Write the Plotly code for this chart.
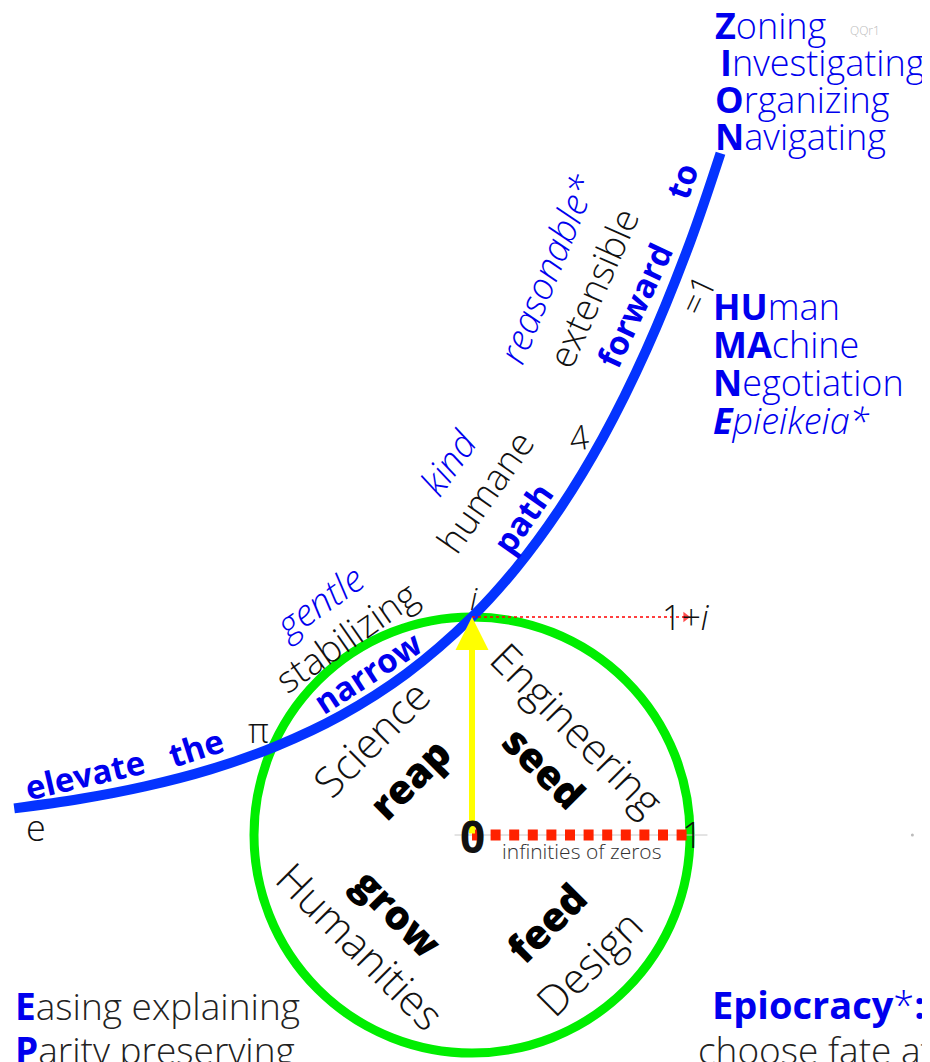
import plotly.graph_objects as go

# ---------------- data ----------------
# blue path
curve_x = [-2.10, -1.80, -1.50, -1.20, -0.90, -0.60, -0.30, 0.00, 0.20, 0.40, 0.60, 0.80, 1.00, 1.14]
curve_y = [0.122, 0.165, 0.223, 0.301, 0.407, 0.549, 0.741, 1.000, 1.221, 1.492, 1.822, 2.226, 2.718, 3.127]

# unit segments
real_seg_x = [0.0, 1.0]
real_seg_y = [0.0, 0.0]
imag_seg_x = [0.0, 0.98]
imag_seg_y = [1.0, 1.0]
arrow_tail = [0.0, 0.0]
arrow_head = [0.0, 1.0]
stray_x = [2.02]
stray_y = [0.0]

path_words = ["elevate", "the", "narrow", "path", "forward", "to"]
middle_words = ["stabilizing", "humane", "extensible"]
upper_words = ["gentle", "kind", "reasonable*"]
quadrant_fields = ["Science", "Engineering", "Humanities", "Design"]
quadrant_verbs = ["reap", "seed", "grow", "feed"]
point_labels = ["e", "π", "<i>i</i>", "4", "=1", "1+<i>i</i>", "<b>0</b>", "1"]
zion_lines = ["<b>Z</b>oning", "<b>I</b>nvestigating", "<b>O</b>rganizing", "<b>N</b>avigating"]
humane_lines = ["<b>HU</b>man", "<b>MA</b>chine", "<b>N</b>egotiation", "<b><i>E</i></b><i>pieikeia*</i>"]
left_lines = ["<b><span style='color:#0000ee'>E</span></b>asing explaining",
              "<b><span style='color:#0000ee'>P</span></b>arity preserving"]
right_lines = ["<b>Epiocracy</b>*<b>:</b>", "choose fate at"]
zero_note = "infinities of zeros"
tag = "QQr1"

# ---------------- style ----------------
W, H = 930, 1062
U = 218.0
OX, OY = 472.0, 835.0      # origin in screenshot pixels
PAGE = 8.0                 # default page margin of the html body
BLUE_LINE = "#0433ff"
BLUE_TXT = "#0000ee"
FONT = "Open Sans"


def px2d(px, py):
    return (px - OX) / U, (OY - py) / U


fig = go.Figure()

# faint axis hint and stray point
fig.add_trace(go.Scatter(x=[-0.08, 1.08], y=[0, 0], mode="lines",
                         line=dict(color="#c8c8c8", width=1), hoverinfo="skip"))
fig.add_trace(go.Scatter(x=stray_x, y=stray_y, mode="markers",
                         marker=dict(color="#bbbbbb", size=3), hoverinfo="skip"))

# unit circle (below traces)
fig.add_shape(type="circle", xref="x", yref="y", x0=-1, y0=-1, x1=1, y1=1,
              line=dict(color="#00ee00", width=9), layer="below")

# blue path
fig.add_trace(go.Scatter(x=curve_x, y=curve_y, mode="lines", line_shape="spline",
                         line=dict(color=BLUE_LINE, width=10), hoverinfo="skip"))

# red dotted unit segment 0 -> 1
fig.add_trace(go.Scatter(x=real_seg_x, y=real_seg_y, mode="lines",
                         line=dict(color="#ff2200", width=11, dash="10px,8.6px"),
                         hoverinfo="skip"))

# thin red dotted i -> 1+i
fig.add_trace(go.Scatter(x=imag_seg_x, y=imag_seg_y, mode="lines+markers",
                         line=dict(color="#ff0000", width=1.3, dash="dot"),
                         marker=dict(symbol="triangle-right", size=[0, 9], color="#ff0000",
                                     line=dict(width=0)),
                         hoverinfo="skip"))

annotations = []


def txt(text, px, py, size, color="#111111", angle=0, weight=300, italic=False,
        xanchor="center", yanchor="middle", family=FONT):
    x, y = px2d(px, py)
    annotations.append(dict(
        x=x, y=y, xref="x", yref="y", text=text, showarrow=False,
        textangle=angle, xanchor=xanchor, yanchor=yanchor,
        font=dict(family=family, size=size, color=color, weight=weight,
                  style="italic" if italic else "normal")))


# yellow arrow
annotations.append(dict(x=arrow_head[0], y=arrow_head[1], ax=arrow_tail[0], ay=arrow_tail[1],
                        xref="x", yref="y", axref="x", ayref="y", text="", showarrow=True,
                        arrowhead=2, arrowsize=1.1, arrowwidth=6, arrowcolor="#ffff00", standoff=0))

# words along the path
path_pos = [(85, 774, -13), (196, 747, -18), (367, 672, -33), (522, 518, -55), (634, 305, -65), (681, 181, -70)]
for w, (px, py, a) in zip(path_words, path_pos):
    txt(w, px, py, 33, color=BLUE_TXT, angle=a, weight=700)

mid_pos = [(345, 636, -35), (484, 491, -55), (592, 287, -66)]
for w, (px, py, a) in zip(middle_words, mid_pos):
    txt(w, px, py, 37, color="#111111", angle=a)

up_pos = [(318, 601, -35), (447, 462, -55), (546, 268, -68)]
for w, (px, py, a) in zip(upper_words, up_pos):
    txt(w, px, py, 37, color=BLUE_TXT, angle=a, italic=True)

# circle quadrants
field_pos = [(370, 738, -45), (578, 728, 45), (361, 945, 45), (588, 962, -45)]
for w, (px, py, a) in zip(quadrant_fields, field_pos):
    txt(w, px, py, 42, color="#111111", angle=a)
verb_pos = [(409, 778, -45), (545, 767, 45), (398, 912, 45), (546, 922, -45)]
for w, (px, py, a) in zip(quadrant_verbs, verb_pos):
    txt(w, px, py, 40, color="#000000", angle=a, weight=800)

# point labels
label_pos = [(36, 827, 0, 36), (258, 730, 0, 34), (474, 597, 0, 32), (578, 437, -8, 34),
             (697, 295, -65, 34), (686, 617, 0, 34), (472, 836, 0, 44), (692, 834, 0, 36)]
for w, (px, py, a, s) in zip(point_labels, label_pos):
    txt(w, px, py, s, color="#111111", angle=a)
txt(zero_note, 581, 851, 21, color="#333333")

# ZION block
zion_x = [713, 718, 713, 713]
for i, line in enumerate(zion_lines):
    txt(line, zion_x[i], 25 + 37.2 * i, 36, color=BLUE_TXT, xanchor="left")
txt(tag, 848, 30, 12, color="#bbbbbb", xanchor="left")

# HUMANE block
for i, line in enumerate(humane_lines):
    txt(line, 711, 306 + 38 * i, 36, color=BLUE_TXT, xanchor="left")

# bottom left
for i, line in enumerate(left_lines):
    txt(line, 13, 1005 + 44 * i, 37, color="#222222", xanchor="left")

# bottom right
txt(right_lines[0], 927, 1004, 38, color=BLUE_TXT, xanchor="right")
txt(right_lines[1], 935, 1049, 37, color="#222222", xanchor="right")

# axis ranges: the figure starts PAGE pixels in from the screenshot corner
xr = [(PAGE - OX) / U, (PAGE + W - OX) / U]
yr = [(OY - PAGE - H) / U, (OY - PAGE) / U]

fig.update_layout(
    width=W, height=H, margin=dict(l=0, r=0, t=0, b=0),
    paper_bgcolor="white", plot_bgcolor="white", showlegend=False,
    xaxis=dict(range=xr, visible=False, showgrid=False, zeroline=False, fixedrange=True),
    yaxis=dict(range=yr, visible=False, showgrid=False, zeroline=False, fixedrange=True),
    annotations=annotations,
)

fig.write_html("out.html")
